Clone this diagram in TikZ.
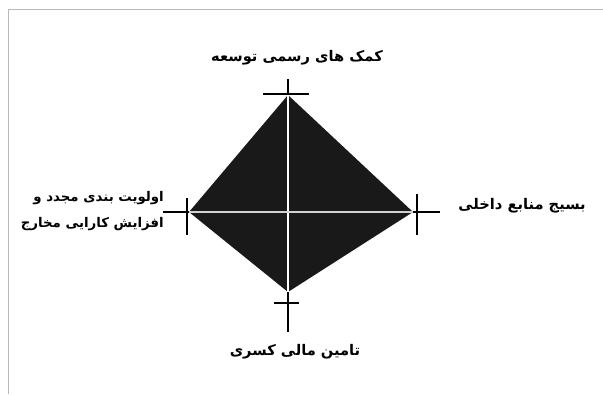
\documentclass[tikz,border=0pt]{standalone}
\usepackage{fontspec}
\usepackage{tikz}
\newfontfamily\arabicfont[Script=Arabic]{DejaVu Sans}
\TeXXeTstate=1

\begin{document}
\begin{tikzpicture}[
        x=0.75pt, y=-0.75pt,
        label/.style={font=\arabicfont\fontsize{11}{15}\selectfont\bfseries, inner sep=0pt, align=right},
        tick/.style={line width=1.1pt},
        frame/.style={gray!55, line width=1.2pt}
    ]
        \useasboundingbox (0,0) rectangle (603,394);
        \draw[frame] (8.5,394) -- (8.5,9.5) -- (603,9.5);

        \coordinate (top) at (288,95);
        \coordinate (bot) at (288,292);
        \coordinate (lft) at (189,212);
        \coordinate (rgt) at (413,212);

        \fill[black!90] (top) -- (rgt) -- (bot) -- (lft) -- cycle;
        \draw[white, line width=0.8pt] (top) -- (bot);
        \draw[gray!35, line width=1pt] (lft) -- (rgt);

        % ticks
        \coordinate (topend) at (288,79);
        \coordinate (botend) at (288,332);
        \coordinate (lftend) at (163,212);
        \coordinate (rgtend) at (440,212);
        \draw[tick] (top) -- (topend);
        \draw[tick] (263,94) -- (309,94);
        \draw[tick] (bot) -- (botend);
        \draw[tick] (274,303) -- (299,303);
        \draw[tick] (lft) -- (lftend);
        \draw[tick] (187,198) -- (187,235);
        \draw[tick] (rgt) -- (rgtend);
        \draw[tick] (417,194) -- (417,235);

        \node[label] (aid) at (297,58) {\beginR کمک های رسمی توسعه\endR};
        \node[label] (fin) at (295,352) {\beginR تامین مالی کسری\endR};
        \node[label, anchor=east] (mob) at (586,206) {\beginR بسیج منابع داخلی\endR};
        \node[label, anchor=east, font=\arabicfont\fontsize{10}{20}\selectfont\bfseries] (pri) at (164,211)
            {\beginR اولویت بندی مجدد و\endR\\\beginR افزایش کارایی مخارج\endR};
    \end{tikzpicture}
\end{document}
